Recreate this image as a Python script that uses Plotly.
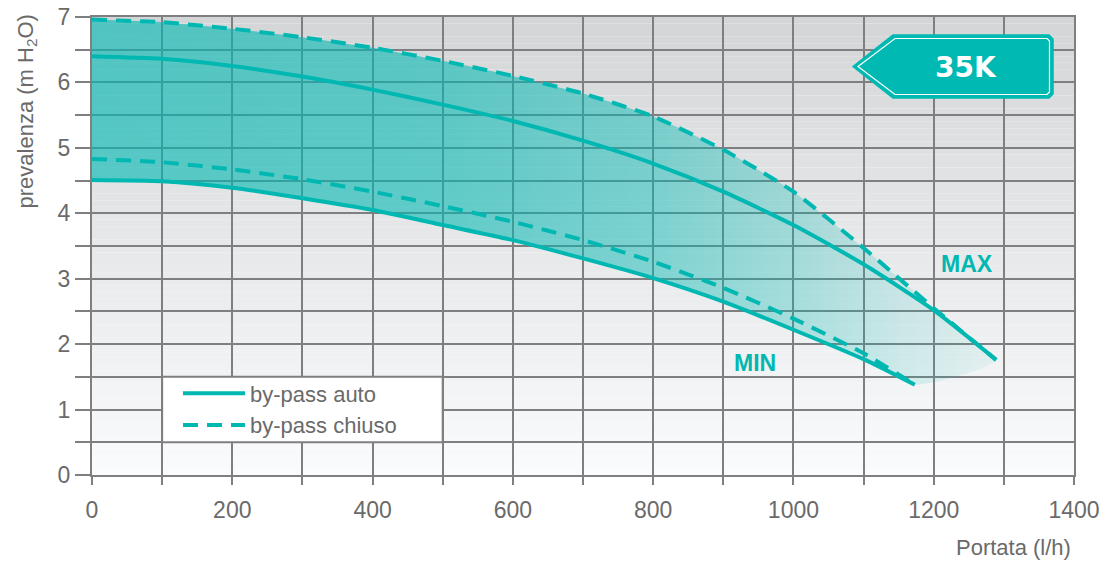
import plotly.graph_objects as go

# ---- data ----
x_max_chiuso = [0, 100, 200, 300, 400, 500, 600, 700, 800, 900, 1000, 1100, 1200, 1289]
y_max_chiuso = [6.96, 6.92, 6.82, 6.69, 6.53, 6.33, 6.10, 5.83, 5.48, 4.97, 4.33, 3.47, 2.55, 1.76]

x_max_auto = [0, 100, 200, 300, 400, 500, 600, 700, 800, 900, 1000, 1100, 1200, 1289]
y_max_auto = [6.40, 6.36, 6.25, 6.09, 5.89, 5.66, 5.41, 5.11, 4.76, 4.33, 3.82, 3.22, 2.52, 1.76]

x_min_chiuso = [0, 100, 200, 300, 400, 500, 600, 700, 800, 900, 1000, 1100, 1173]
y_min_chiuso = [4.83, 4.78, 4.67, 4.52, 4.33, 4.11, 3.87, 3.59, 3.26, 2.86, 2.39, 1.86, 1.38]

x_min_auto = [0, 100, 200, 300, 400, 500, 600, 700, 800, 900, 1000, 1100, 1173]
y_min_auto = [4.51, 4.49, 4.39, 4.23, 4.05, 3.82, 3.59, 3.31, 3.01, 2.65, 2.22, 1.77, 1.38]

series_names = ["by-pass auto", "by-pass chiuso"]
x_tick_vals = list(range(0, 1401, 100))
x_tick_text = [str(v) if v % 200 == 0 else "" for v in x_tick_vals]
y_tick_vals = [i * 0.5 for i in range(15)]
y_tick_text = [str(int(v)) if v == int(v) else "" for v in y_tick_vals]

TEAL = "#00b8b1"
GRID = "#7f7f81"
TXT = "#6a6a6a"
FONT = "Liberation Sans, Arial, sans-serif"

fig = go.Figure()

# band fill between the upper dashed and lower solid curve
fig.add_trace(go.Scatter(
    x=x_max_chiuso + x_min_auto[::-1],
    y=y_max_chiuso + y_min_auto[::-1],
    mode="lines", line=dict(width=0, shape="spline", smoothing=0.6),
    fill="toself",
    fillgradient=dict(
        type="horizontal", start=0, stop=1300,
        colorscale=[[0, "rgba(0,184,178,0.62)"], [0.385, "rgba(0,184,178,0.58)"],
                    [0.615, "rgba(0,184,178,0.46)"], [0.77, "rgba(0,184,178,0.30)"],
                    [0.885, "rgba(0,184,178,0.15)"], [1, "rgba(0,184,178,0.05)"]]),
    showlegend=False, hoverinfo="skip"))

line_solid = dict(color=TEAL, width=4, shape="spline", smoothing=0.6)
line_dash = dict(color=TEAL, width=4, shape="spline", smoothing=0.6, dash="15px,9px")

fig.add_trace(go.Scatter(x=x_max_auto, y=y_max_auto, mode="lines", line=line_solid,
                         name=series_names[0], legendgroup="auto", legendrank=1))
fig.add_trace(go.Scatter(x=x_min_auto, y=y_min_auto, mode="lines", line=line_solid,
                         name=series_names[0], legendgroup="auto", showlegend=False))
fig.add_trace(go.Scatter(x=x_max_chiuso, y=y_max_chiuso, mode="lines", line=line_dash,
                         name=series_names[1], legendgroup="chiuso", legendrank=2))
fig.add_trace(go.Scatter(x=x_min_chiuso, y=y_min_chiuso, mode="lines", line=line_dash,
                         name=series_names[1], legendgroup="chiuso", showlegend=False))

# vertical background gradient (strips below the grid)
shapes = []
N = 70
for i in range(N):
    t = (i + 0.5) / N  # 0 bottom -> 1 top
    c = int(round(250 - (250 - 212) * t))
    shapes.append(dict(type="rect", xref="paper", yref="paper", x0=0, x1=1,
                       y0=i / N, y1=(i + 1) / N, layer="below", line=dict(width=0),
                       fillcolor=f"rgb({c},{c + 1},{min(c + 2, 255)})"))

# legend frame: white box sitting on the grid cell block 100..500 x 0.5..1.5
shapes.append(dict(type="rect", xref="x", yref="y", x0=100, x1=500, y0=0.5, y1=1.5,
                   fillcolor="white", line=dict(color=GRID, width=2), layer="above"))


# reference pixel positions -> paper coordinates (plot area 92..1074 x 17..475)
def px(xp):
    return (xp - 92) / 982.0


def py(yp):
    return (475 - yp) / 458.0


outer = [(853, 66.5), (893, 35), (1049, 35), (1053, 39), (1053, 94), (1049, 98), (893, 98)]
inner = [(858, 66.5), (895, 38.5), (1047, 38.5), (1049.5, 41), (1049.5, 92), (1047, 94.5), (895, 94.5)]


def path(pts):
    return "M " + " L ".join(f"{px(a):.5f},{py(b):.5f}" for a, b in pts) + " Z"


shapes.append(dict(type="path", xref="paper", yref="paper", path=path(outer),
                   fillcolor="#00b9b2", line=dict(color="#00b9b2", width=1.5), layer="above"))
shapes.append(dict(type="path", xref="paper", yref="paper", path=path(inner),
                   fillcolor="rgba(0,0,0,0)", line=dict(color="white", width=1.2), layer="above"))

annotations = [
    dict(text="35K", x=px(966), y=py(67), xref="paper", yref="paper", showarrow=False,
         xanchor="center", yanchor="middle",
         font=dict(family="DejaVu Sans, sans-serif", size=28, color="white", weight="bold")),
    dict(text="MAX", x=1247, y=3.22, xref="x", yref="y", showarrow=False,
         xanchor="center", yanchor="middle",
         font=dict(family=FONT, size=23, color=TEAL, weight="bold")),
    dict(text="MIN", x=945, y=1.71, xref="x", yref="y", showarrow=False,
         xanchor="center", yanchor="middle",
         font=dict(family=FONT, size=23, color=TEAL, weight="bold")),
    dict(text="prevalenza (m H<sub>2</sub>O)", textangle=-90, x=px(26), y=py(111.5),
         xref="paper", yref="paper", showarrow=False, xanchor="center", yanchor="middle",
         font=dict(family=FONT, size=22, color=TXT)),
    dict(text="Portata (l/h)", x=px(1073), y=py(547), xref="paper", yref="paper",
         showarrow=False, xanchor="right", yanchor="middle",
         font=dict(family=FONT, size=22, color=TXT)),
]

fig.update_layout(
    width=1106, height=562,
    margin=dict(l=92, r=32, t=17, b=87, autoexpand=False),
    paper_bgcolor="white", plot_bgcolor="white",
    shapes=shapes, annotations=annotations,
    showlegend=True,
    legend=dict(x=px(178), y=py(372.5), xanchor="left", yanchor="top",
                bgcolor="rgba(0,0,0,0)", borderwidth=0,
                font=dict(family=FONT, size=22, color=TXT),
                itemwidth=62, tracegroupgap=0, traceorder="normal"),
    xaxis=dict(range=[0, 1400], tickvals=x_tick_vals, ticktext=x_tick_text,
               showgrid=True, gridcolor=GRID, gridwidth=2,
               showline=True, linecolor=GRID, linewidth=2, mirror=True,
               ticks="outside", ticklen=8, tickwidth=2, tickcolor=GRID,
               ticklabelstandoff=5, ticklabeloverflow="allow", zeroline=False,
               automargin=False,
               tickfont=dict(family=FONT, size=23, color=TXT)),
    yaxis=dict(range=[0, 7], tickvals=y_tick_vals, ticktext=y_tick_text,
               showgrid=True, gridcolor=GRID, gridwidth=2,
               showline=True, linecolor=GRID, linewidth=2, mirror=True,
               ticks="outside", ticklen=15, tickwidth=2, tickcolor=GRID,
               ticklabeloverflow="allow", zeroline=False, automargin=False,
               tickfont=dict(family=FONT, size=23, color=TXT)),
)

# remove the page's default body margin so the 1106x562 figure fills the window exactly
fig.write_html("out.html", config={"displayModeBar": False},
               post_script="document.body.style.margin='0';document.body.style.overflow='hidden';")
